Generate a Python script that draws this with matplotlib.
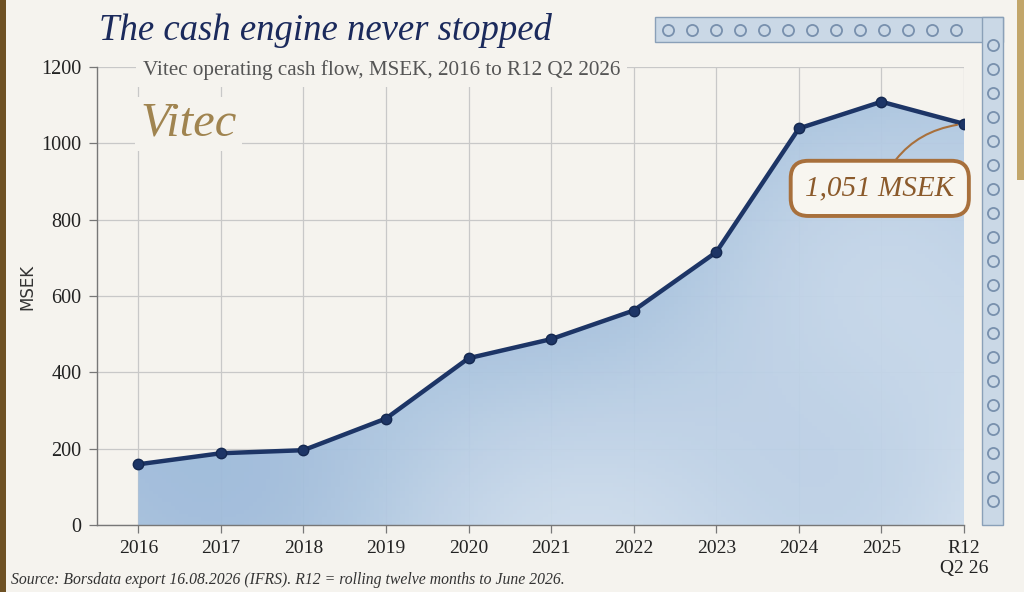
import numpy as np
import matplotlib
matplotlib.use("Agg")
import matplotlib.pyplot as plt
from matplotlib.patches import Rectangle
from matplotlib.lines import Line2D
from matplotlib.colors import LinearSegmentedColormap

# ---- data ----
categories = ["2016", "2017", "2018", "2019", "2020", "2021", "2022", "2023", "2024", "2025", "R12\nQ2 26"]
cash_flow = [159, 188, 196, 279, 437, 487, 562, 715, 1039, 1109, 1051]
y_ticks = [0, 200, 400, 600, 800, 1000, 1200]
title = "The cash engine never stopped"
subtitle = "Vitec operating cash flow, MSEK, 2016 to R12 Q2 2026"
source = "Source: Borsdata export 16.08.2026 (IFRS). R12 = rolling twelve months to June 2026."
callout = "1,051 MSEK"

PAPER = "#f5f3ee"
NAVY = "#1d3566"
SERIF = ["Liberation Serif", "DejaVu Serif"]

fig = plt.figure(figsize=(10.24, 5.92), dpi=100, facecolor=PAPER)
W, H = 1024, 592

def fx(px):
    return px / W

def fy(py):
    return 1 - py / H

# decorative paper edges and border bands
fig.patches.append(Rectangle((0, 0), fx(6), 1, transform=fig.transFigure,
                             facecolor="#6e5124", edgecolor="none", zorder=0))
fig.patches.append(Rectangle((fx(1017), fy(180)), fx(7), 180 / H, transform=fig.transFigure,
                             facecolor="#c2a66a", edgecolor="none", zorder=0))
fig.patches.append(Rectangle((fx(655), fy(42)), fx(1003 - 655), 25 / H, transform=fig.transFigure,
                             facecolor="#cad8e6", edgecolor="#8aa0b8", lw=1.0, zorder=0))
fig.patches.append(Rectangle((fx(982), fy(525)), fx(21), (525 - 17) / H, transform=fig.transFigure,
                             facecolor="#cad8e6", edgecolor="#8aa0b8", lw=1.0, zorder=0))
# ornament motifs in the bands
top_x = np.arange(668, 980, 24)
fig.lines.append(Line2D(fx(top_x), np.full(len(top_x), fy(29.5)), transform=fig.transFigure,
                        ls="none", marker="o", markersize=8, markerfacecolor="none",
                        markeredgecolor="#7890ad", markeredgewidth=1.3))
side_y = np.arange(45, 520, 24)
fig.lines.append(Line2D(np.full(len(side_y), fx(992.5)), fy(side_y), transform=fig.transFigure,
                        ls="none", marker="o", markersize=8, markerfacecolor="none",
                        markeredgecolor="#7890ad", markeredgewidth=1.3))

ax = fig.add_axes([fx(97), fy(525), fx(964 - 97), (525 - 67) / H])
ax.set_facecolor("none")

x = np.arange(len(categories))
y = np.array(cash_flow)

# watercolor-like gradient fill under the line
poly = ax.fill_between(x, y, 0, facecolor="none", edgecolor="none")
cmap = LinearSegmentedColormap.from_list("wash", ["#cddcec", "#a9c3df", "#86a9d0"])
gx = np.linspace(0, 1, 200)
gy = np.linspace(0, 1, 120)
GX, GY = np.meshgrid(gx, gy)
field = 0.5 * (1 - GX) + 0.45 * GY + 0.15 * np.sin(GX * 9) * np.cos(GY * 5) + 0.1
field = np.clip(field, 0, 1)
im = ax.imshow(field, origin="lower", extent=(-0.5, 10, 0, 1200), cmap=cmap,
               aspect="auto", zorder=1, alpha=0.95)
im.set_clip_path(poly.get_paths()[0], transform=ax.transData)

ax.plot(x, y, color=NAVY, lw=3.2, marker="o", markersize=7.5,
        markerfacecolor=NAVY, markeredgecolor="#142850", zorder=4)

ax.set_xlim(-0.5, 10)
ax.set_ylim(0, 1200)
ax.set_xticks(x)
ax.set_xticklabels(categories, family=SERIF, fontsize=14, color="#222222")
ax.set_yticks(y_ticks)
ax.set_yticklabels([str(v) for v in y_ticks], family=SERIF, fontsize=14.5, color="#222222")
ax.tick_params(axis="both", length=6, width=0.9, color="#777777", pad=5)
ax.grid(True, color="#c8c8c8", lw=0.9, zorder=0)
ax.set_axisbelow(True)
for s in ["top", "right"]:
    ax.spines[s].set_visible(False)
for s in ["left", "bottom"]:
    ax.spines[s].set_color("#777777")
    ax.spines[s].set_linewidth(1.0)

ax.set_ylabel("MSEK", family="DejaVu Sans", fontsize=12, color="#333333")
ax.yaxis.set_label_coords(-0.07, 0.52)

# callout
ax.annotate(callout, xy=(x[-1], y[-1]), xytext=(8.98, 882),
            family=SERIF, style="italic", fontsize=21, color="#8b5a2b",
            ha="center", va="center", zorder=6,
            bbox=dict(boxstyle="round,pad=0.5,rounding_size=0.6", facecolor="#f8f6f0",
                      edgecolor="#a8703c", lw=2.8),
            arrowprops=dict(arrowstyle="-", color="#a8703c", lw=1.5,
                            connectionstyle="arc3,rad=-0.3", shrinkA=0, shrinkB=5))

# texts
fig.text(fx(99), fy(30), title, family=SERIF, style="italic", fontsize=26.5,
         color="#1b2a5c", ha="left", va="center")
fig.text(fx(143), fy(70), subtitle, family=SERIF, fontsize=15.2, color="#555555",
         ha="left", va="center",
         bbox=dict(facecolor=PAPER, edgecolor="none", pad=5))
fig.text(fx(140), fy(124), "Vitec", family=SERIF, style="italic", fontsize=35,
         color="#a08450", ha="left", va="center",
         bbox=dict(facecolor=PAPER, edgecolor="none", pad=4))
fig.text(fx(11), fy(580), source, family=SERIF, style="italic", fontsize=11.3,
         color="#333333", ha="left", va="center")

fig.savefig("out.png", dpi=100, facecolor=PAPER)
